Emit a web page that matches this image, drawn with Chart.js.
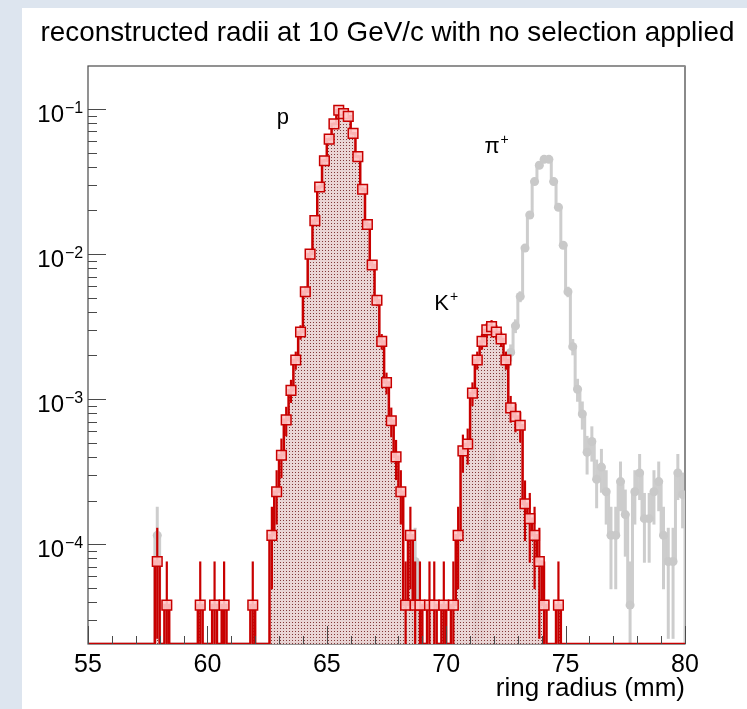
<!DOCTYPE html>
<html>
<head>
<meta charset="utf-8">
<title>ring radius</title>
<script src="https://cdn.jsdelivr.net/npm/chart.js@4.4.1/dist/chart.umd.min.js"></script>
<style>
  html, body { margin: 0; padding: 0; width: 747px; height: 709px; overflow: hidden; background: #dde5ef; }
  #panel { position: absolute; left: 22px; top: 8px; width: 725px; height: 701px; background: #ffffff; }
  #grafico { position: absolute; left: 0; top: 0; }
</style>
</head>
<body>
<div id="panel"></div>
<canvas id="grafico" width="747" height="709"></canvas>
<script>
// ==========================================
// reconstructed ring radii, 10 GeV/c
// ==========================================

const FONT = '"Liberation Sans", Arial, Helvetica, sans-serif';

// bin centres (mm), bins are 0.2 mm wide
const radius = [
  55.1, 55.3, 55.5, 55.7, 55.9,
  56.1, 56.3, 56.5, 56.7, 56.9,
  57.1, 57.3, 57.5, 57.7, 57.9,
  58.1, 58.3, 58.5, 58.7, 58.9,
  59.1, 59.3, 59.5, 59.7, 59.9,
  60.1, 60.3, 60.5, 60.7, 60.9,
  61.1, 61.3, 61.5, 61.7, 61.9,
  62.1, 62.3, 62.5, 62.7, 62.9,
  63.1, 63.3, 63.5, 63.7, 63.9,
  64.1, 64.3, 64.5, 64.7, 64.9,
  65.1, 65.3, 65.5, 65.7, 65.9,
  66.1, 66.3, 66.5, 66.7, 66.9,
  67.1, 67.3, 67.5, 67.7, 67.9,
  68.1, 68.3, 68.5, 68.7, 68.9,
  69.1, 69.3, 69.5, 69.7, 69.9,
  70.1, 70.3, 70.5, 70.7, 70.9,
  71.1, 71.3, 71.5, 71.7, 71.9,
  72.1, 72.3, 72.5, 72.7, 72.9,
  73.1, 73.3, 73.5, 73.7, 73.9,
  74.1, 74.3, 74.5, 74.7, 74.9,
  75.1, 75.3, 75.5, 75.7, 75.9,
  76.1, 76.3, 76.5, 76.7, 76.9,
  77.1, 77.3, 77.5, 77.7, 77.9,
  78.1, 78.3, 78.5, 78.7, 78.9,
  79.1, 79.3, 79.5, 79.7, 79.9
];
const binWidth = 0.2;

// p and K+ (red)
const protonKaon = [
  0, 0, 0, 0, 0,
  0, 0, 0, 0, 0,
  0, 0, 0, 0, 7.6e-5,
  0, 3.8e-5, 0, 0, 0,
  0, 0, 0, 3.8e-5, 0,
  0, 3.8e-5, 0, 3.8e-5, 0,
  0, 0, 0, 0, 3.8e-5,
  0, 0, 0, 1.15e-4, 2.3e-4,
  4.1e-4, 7.2e-4, 1.15e-3, 1.86e-3, 2.9e-3,
  5.5e-3, 1.0e-2, 1.7e-2, 2.9e-2, 4.4e-2,
  6.2e-2, 7.9e-2, 9.8e-2, 9.3e-2, 8.9e-2,
  6.8e-2, 4.7e-2, 2.8e-2, 1.6e-2, 8.4e-3,
  4.8e-3, 2.5e-3, 1.3e-3, 7.1e-4, 4.0e-4,
  2.3e-4, 3.8e-5, 1.15e-4, 3.8e-5, 3.8e-5,
  0, 3.8e-5, 3.8e-5, 0, 3.8e-5,
  0, 3.8e-5, 1.15e-4, 4.4e-4, 4.9e-4,
  1.1e-3, 1.86e-3, 2.5e-3, 3.0e-3, 3.16e-3,
  2.9e-3, 2.6e-3, 1.86e-3, 8.7e-4, 7.6e-4,
  6.6e-4, 1.9e-4, 1.5e-4, 1.15e-4, 7.6e-5,
  3.8e-5, 0, 0, 3.8e-5, 0,
  0, 0, 0, 0, 0,
  0, 0, 0, 0, 0,
  0, 0, 0, 0, 0,
  0, 0, 0, 0, 0,
  0, 0, 0, 0, 0
];

// pi+ (grey)
const pion = [
  0, 0, 0, 0, 0,
  0, 0, 0, 0, 0,
  0, 0, 0, 0, 1.15e-4,
  0, 0, 0, 0, 0,
  0, 0, 0, 0, 0,
  0, 0, 0, 0, 0,
  0, 0, 0, 0, 0,
  0, 0, 0, 0, 0,
  0, 0, 0, 0, 0,
  0, 0, 0, 0, 0,
  0, 0, 0, 0, 0,
  0, 0, 0, 0, 0,
  0, 0, 0, 0, 0,
  0, 0, 0, 7.6e-5, 0,
  0, 0, 0, 0, 0,
  0, 0, 0, 0, 0,
  0, 3.8e-5, 7.6e-5, 1.9e-4, 4.0e-4,
  8.0e-4, 1.3e-3, 1.7e-3, 2.1e-3, 3.2e-3,
  5.1e-3, 1.1e-2, 1.86e-2, 3.16e-2, 4.1e-2,
  4.5e-2, 4.5e-2, 3.16e-2, 2.1e-2, 1.15e-2,
  5.5e-3, 2.3e-3, 1.17e-3, 7.9e-4, 4.3e-4,
  5.1e-4, 2.8e-4, 3.4e-4, 2.3e-4, 1.15e-4,
  1.15e-4, 2.7e-4, 1.6e-4, 3.8e-5, 2.3e-4,
  3.1e-4, 1.5e-4, 1.5e-4, 2.3e-4, 2.7e-4,
  1.15e-4, 7.6e-5, 7.6e-5, 3.1e-4, 2.2e-4
];

// content of a single entry -> sqrt(N) error bars
const entryWeight = 3.8e-5;

const xTicks = [55, 60, 65, 70, 75, 80];
const yTicks = [1e-1, 1e-2, 1e-3, 1e-4];
const yTickExp = ["\u22121", "\u22122", "\u22123", "\u22124"];

const peakLabels = [
  { text: "p", sup: "", x: 62.9, y: 0.079 },
  { text: "\u03c0", sup: "+", x: 71.6, y: 0.05 },
  { text: "K", sup: "+", x: 69.5, y: 4.1e-3 }
];

const yMin = 2.05e-5;
const yMax = 0.198;

// step outline of a histogram, empty bins drop to the floor
function outline(values) {
  const pts = [{ x: radius[0] - binWidth / 2, y: yMin }];
  values.forEach((v, i) => {
    const h = v > 0 ? v : yMin;
    pts.push({ x: radius[i] - binWidth / 2, y: h });
    pts.push({ x: radius[i] + binWidth / 2, y: h });
  });
  pts.push({ x: radius[radius.length - 1] + binWidth / 2, y: yMin });
  return pts;
}

function markers(values) {
  return values.map((v, i) => ({ x: radius[i], y: v })).filter(p => p.y > 0);
}

function errors(values) {
  return markers(values).map(p => ({ x: p.x, y: p.y, e: Math.sqrt(p.y * entryWeight) }));
}

function dotPattern() {
  const c = document.createElement("canvas");
  c.width = 3;
  c.height = 3;
  const g = c.getContext("2d");
  g.fillStyle = "rgba(230,206,206,0.85)";
  g.fillRect(0, 0, 3, 3);
  g.fillStyle = "rgba(120,40,40,0.9)";
  g.fillRect(1, 1, 1, 1);
  return g.createPattern(c, "repeat");
}

// error bars, frame, inside ticks and ROOT style labels
const rootStyle = {
  id: "rootStyle",

  beforeDatasetsDraw(chart) {
    const { ctx, chartArea: a } = chart;
    ctx.save();
    ctx.strokeStyle = "#4a4a4a";
    ctx.lineWidth = 1.2;
    ctx.strokeRect(a.left, a.top, a.width, a.height);
    ctx.strokeStyle = "#8a8a8a";
    ctx.lineWidth = 2;
    ctx.beginPath();
    ctx.moveTo(a.right, a.top);
    ctx.lineTo(a.right, a.bottom);
    ctx.stroke();
    ctx.restore();
  },

  afterDatasetDraw(chart, args, opts) {
    const set = opts.errorSets[args.index];
    if (!set) return;
    const { ctx, chartArea: a, scales: { x, y } } = chart;
    ctx.save();
    ctx.beginPath();
    ctx.rect(a.left, a.top, a.width, a.height);
    ctx.clip();
    ctx.strokeStyle = set.color;
    ctx.lineWidth = set.width;
    set.points.forEach(p => {
      const lo = p.y - p.e;
      const y1 = lo > yMin ? y.getPixelForValue(lo) : a.bottom;
      const y2 = y.getPixelForValue(p.y + p.e);
      const px = x.getPixelForValue(p.x);
      ctx.beginPath();
      ctx.moveTo(px, y1);
      ctx.lineTo(px, y2);
      ctx.stroke();
    });
    ctx.restore();
  },

  afterDatasetsDraw(chart) {
    const { ctx, chartArea: a, scales: { x, y } } = chart;
    ctx.save();
    ctx.strokeStyle = "#4a4a4a";
    ctx.lineWidth = 1;
    ctx.beginPath();
    for (let v = 55; v <= 80; v++) {
      const px = Math.round(x.getPixelForValue(v)) + 0.5;
      const len = v % 5 === 0 ? 18 : 8;
      ctx.moveTo(px, a.bottom);
      ctx.lineTo(px, a.bottom - len);
    }
    for (let n = -5; n <= -1; n++) {
      for (let k = 1; k <= 9; k++) {
        const v = k * Math.pow(10, n);
        if (v < yMin || v > yMax) continue;
        const py = Math.round(y.getPixelForValue(v)) + 0.5;
        const len = k === 1 ? 18 : 9;
        ctx.moveTo(a.left, py);
        ctx.lineTo(a.left + len, py);
      }
    }
    ctx.stroke();
    ctx.restore();
  },

  afterDraw(chart) {
    const { ctx, scales: { x, y } } = chart;
    ctx.save();
    ctx.fillStyle = "#000";

    // title
    ctx.font = "27.8px " + FONT;
    ctx.textAlign = "center";
    ctx.textBaseline = "alphabetic";
    ctx.fillText("reconstructed radii at 10 GeV/c with no selection applied", 387.5, 41);

    // y labels 10^-n
    yTicks.forEach((v, i) => {
      const py = y.getPixelForValue(v);
      ctx.font = "24px " + FONT;
      ctx.textAlign = "right";
      ctx.fillText("10", 64, py + 13);
      ctx.font = "16px " + FONT;
      ctx.textAlign = "left";
      ctx.fillText(yTickExp[i], 65, py + 4);
    });

    // particle labels
    peakLabels.forEach(l => {
      const px = x.getPixelForValue(l.x);
      const py = y.getPixelForValue(l.y);
      ctx.font = "22px " + FONT;
      ctx.textAlign = "left";
      ctx.fillText(l.text, px, py);
      if (l.sup) {
        const w = ctx.measureText(l.text).width;
        ctx.font = "14px " + FONT;
        ctx.fillText(l.sup, px + w + 1, py - 9);
      }
    });
    ctx.restore();
  }
};

const ctx = document.getElementById("grafico");

new Chart(ctx, {
  type: "line",
  data: {
    datasets: [
      {
        label: "p, K+ points",
        data: markers(protonKaon),
        showLine: false,
        pointStyle: "rect",
        pointRadius: 6.8,
        pointBackgroundColor: "rgba(255,200,200,0.9)",
        pointBorderColor: "#c80000",
        pointBorderWidth: 1.5,
        order: 0
      },
      {
        label: "p, K+",
        data: outline(protonKaon),
        borderColor: "#c80000",
        borderWidth: 2.5,
        backgroundColor: dotPattern(),
        fill: "start",
        pointRadius: 0,
        tension: 0,
        order: 1
      },
      {
        label: "pi+ points",
        data: markers(pion),
        showLine: false,
        pointStyle: "circle",
        pointRadius: 4.5,
        pointBackgroundColor: "#c9c9c9",
        pointBorderColor: "#c9c9c9",
        pointBorderWidth: 0,
        order: 2
      },
      {
        label: "pi+",
        data: outline(pion),
        borderColor: "#cdcdcd",
        borderWidth: 3,
        fill: false,
        pointRadius: 0,
        tension: 0,
        order: 3
      }
    ]
  },
  options: {
    responsive: false,
    devicePixelRatio: 1,
    animation: false,
    layout: {
      autoPadding: false,
      padding: { top: 66, right: 62, left: 0, bottom: 0 }
    },
    plugins: {
      legend: { display: false },
      tooltip: { enabled: false },
      rootStyle: {
        errorSets: {
          1: { points: errors(protonKaon), color: "#c80000", width: 2.2 },
          3: { points: errors(pion), color: "#cdcdcd", width: 3 }
        }
      }
    },
    scales: {
      x: {
        type: "linear",
        min: 55,
        max: 80,
        afterFit: s => { s.height = 65; },
        afterBuildTicks: s => { s.ticks = xTicks.map(v => ({ value: v })); },
        grid: { display: false, drawTicks: false },
        border: { display: false },
        ticks: {
          autoSkip: false,
          maxRotation: 0,
          padding: 6,
          color: "#000",
          font: { family: FONT, size: 25 }
        },
        title: {
          display: true,
          text: "ring radius (mm)",
          align: "end",
          color: "#000",
          padding: { top: 0, bottom: 5 },
          font: { family: FONT, size: 26 }
        }
      },
      y: {
        type: "logarithmic",
        min: yMin,
        max: yMax,
        afterFit: s => { s.width = 88; },
        grid: { display: false, drawTicks: false },
        border: { display: false },
        ticks: { display: false }
      }
    }
  },
  plugins: [rootStyle]
});
</script>
</body>
</html>
